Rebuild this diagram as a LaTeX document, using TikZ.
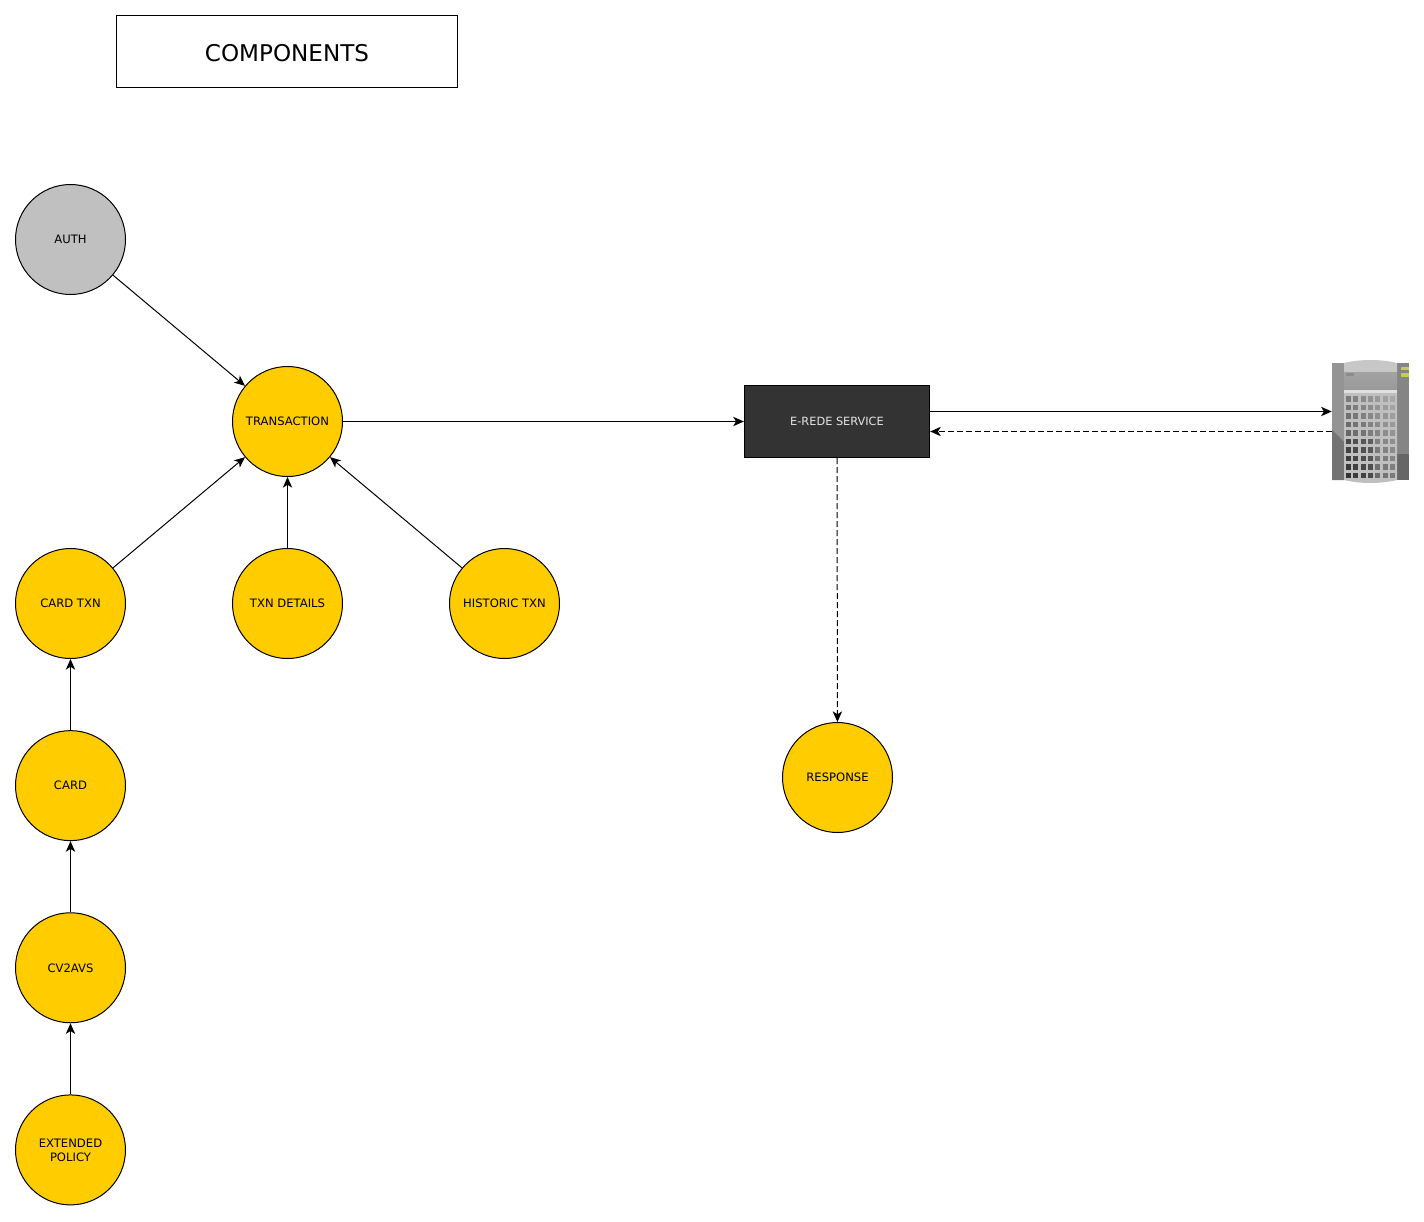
\documentclass[tikz,border=0pt]{standalone}
\usepackage{fontspec}
\setmainfont{DejaVu Sans}
\usetikzlibrary{arrows.meta}
\definecolor{amber}{RGB}{255,204,0}
\definecolor{silver}{RGB}{192,192,192}
\definecolor{charcoal}{RGB}{51,51,51}
\definecolor{ledgreen}{RGB}{196,206,72}
\tikzset{
	comp/.style={circle,draw,line width=0.75pt,fill=amber,minimum size=82.5pt,inner sep=0pt,align=center,font=\fontsize{8.7}{10.5}\selectfont},
	service/.style={rectangle,draw,line width=0.75pt,fill=charcoal,text=white!90!black,minimum width=139pt,minimum height=54pt,inner sep=0pt,font=\fontsize{8.5}{10}\selectfont},
	title/.style={rectangle,draw,line width=0.75pt,minimum width=255.75pt,minimum height=54pt,inner sep=0pt,text height=14.8pt,text depth=0pt,font=\fontsize{17.3}{20}\selectfont},
	host/.style={rectangle,minimum width=57.75pt,minimum height=90pt,inner sep=0pt},
	link/.style={line width=0.75pt,-{Stealth[length=8pt,width=7pt,inset=2.2pt]}},
	reply/.style={link,dash pattern=on 4.5pt off 2.25pt}
}
\begin{document}
\begin{tikzpicture}[x=0.75pt,y=-0.75pt,auto,node distance=136.6pt]
	\useasboundingbox (0,0) rectangle (1424,1221);
	\node[title] (components) at (287,51.5) {COMPONENTS};
	\node[comp] (txn) at (287.5,421.5) {TRANSACTION};
	\node[comp,fill=silver] (auth) at (70.5,239.5) {AUTH};
	\node[comp] (cardtxn) at (70.5,603.5) {CARD TXN};
	\node[comp] (details) at (287.5,603.5) {TXN DETAILS};
	\node[comp] (historic) at (504.5,603.5) {HISTORIC TXN};
	\node[comp] (card) [below of = cardtxn] {CARD};
	\node[comp] (cv2avs) [below of = card] {CV2AVS};
	\node[comp] (extended) [below of = cv2avs] {EXTENDED\\POLICY};
	\node[service] (erede) at (837,421.5) {E-REDE SERVICE};
	\node[comp] (response) at (837.5,777.5) {RESPONSE};
	\node[host] (server) at (1370.5,421.5) {};
	% server picture
	\fill[black!42] (1332,363) rectangle (1344,480);
	\fill[black!55] (1332,430) -- (1344,442) -- (1344,480) -- (1332,480) -- cycle;
	\fill[black!48] (1397,363) rectangle (1409,480);
	\fill[black!60] (1397,454) rectangle (1409,480);
	\fill[black!22] (1344,363) .. controls (1360,359) and (1381,359) .. (1397,363) -- (1397,372) -- (1344,372) -- cycle;
	\fill[top color=black!36,bottom color=black!40] (1344,372) rectangle (1397,390);
	\fill[black!12] (1344,390) rectangle (1397,393);
	\fill[black!25] (1344,393) -- (1397,393) -- (1397,480) .. controls (1381,484) and (1360,484) .. (1344,480) -- cycle;
	\fill[black!45] (1346,373) rectangle (1354,376);
	\fill[ledgreen] (1401,367) rectangle (1409,370);
	\fill[ledgreen] (1401,373) rectangle (1409,377);
	\foreach \col in {0,...,6}
		\foreach \row in {0,...,9} {
			\pgfmathsetmacro{\tint}{int(52+2*\row-3*\col+(\row>4)*(\col<4)*10)}
			\fill[black!\tint] (1346+7.3*\col,396+8.5*\row) rectangle +(5,5.5);
		}
	\path[link]	(auth) edge (txn)
			(cardtxn) edge (txn)
			(details) edge (txn)
			(historic) edge (txn)
			(card) edge (cardtxn)
			(cv2avs) edge (card)
			(extended) edge (cv2avs)
			(txn) edge (erede);
	\draw[link] ([yshift=7.5pt]erede.east) -- ([yshift=7.5pt]server.west);
	\draw[reply] ([yshift=-7.5pt]server.west) -- ([yshift=-7.5pt]erede.east);
	\draw[reply] (erede) -- (response);
\end{tikzpicture}
\end{document}
